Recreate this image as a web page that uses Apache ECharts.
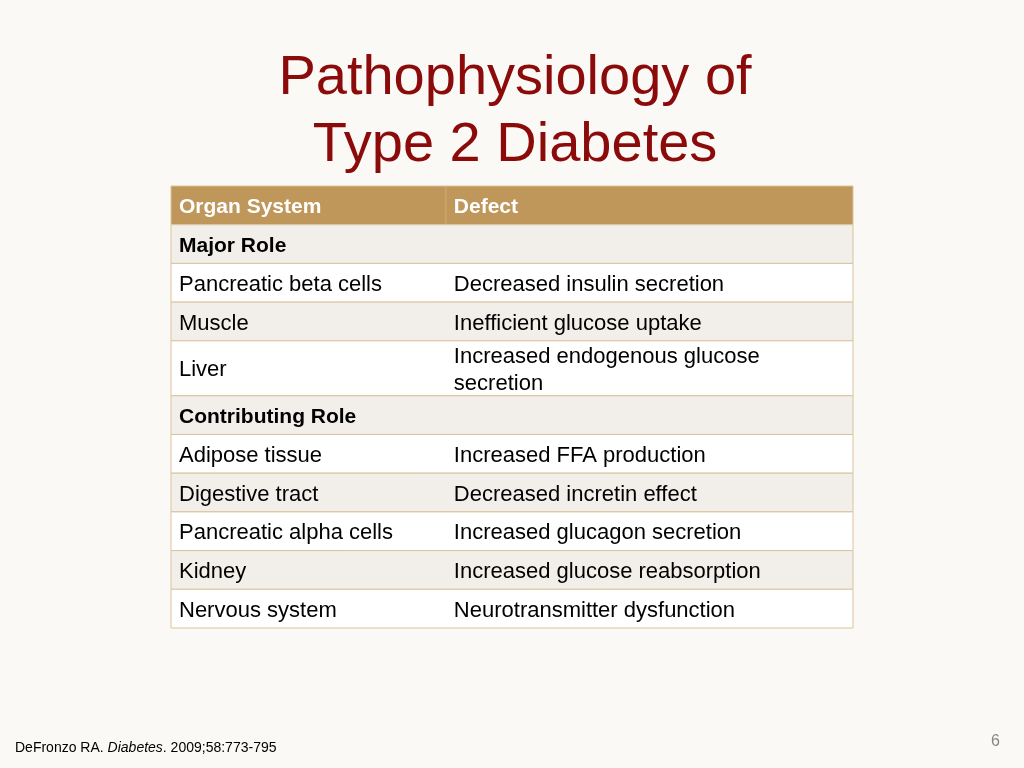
<!DOCTYPE html>
<html><head><meta charset="utf-8">
<script src="https://cdn.jsdelivr.net/npm/echarts@6/dist/echarts.min.js"></script>
<style>html,body{margin:0;padding:0;background:#fbf9f5}#c{width:1024px;height:768px}</style>
</head><body><div id="c"></div>
<script>
const headers = ['Organ System', 'Defect'];
const organs = ['Major Role', 'Pancreatic beta cells', 'Muscle', 'Liver', 'Contributing Role', 'Adipose tissue', 'Digestive tract', 'Pancreatic alpha cells', 'Kidney', 'Nervous system'];
const defects = ['', 'Decreased insulin secretion', 'Inefficient glucose uptake', 'Increased endogenous glucose\nsecretion', '', 'Increased FFA production', 'Decreased incretin effect', 'Increased glucagon secretion', 'Increased glucose reabsorption', 'Neurotransmitter dysfunction'];
const sectionRows = [0, 4];
const rowUnits = [1, 1, 1, 1.42, 1, 1, 1, 1, 1, 1];

const rows = [];
let y = 1;
organs.forEach((o, i) => { rows.push([y, y + rowUnits[i], o, defects[i], i]); y += rowUnits[i]; });
const totalY = y;
const split = 0.403;

const chart = echarts.init(document.getElementById('c'));
chart.setOption({
  backgroundColor: '#fbf9f5',
  title: [
    {text: 'Pathophysiology of\nType 2 Diabetes', left: 510, top: 40, textAlign: 'center',
     textStyle: {color: '#8b0a0a', fontSize: 56, fontWeight: 'normal', fontFamily: 'Liberation Sans', lineHeight: 67}},
  ],
  graphic: [
    {type: 'text', left: 15, top: 741, style: {rich: {a: {fontSize: 14, fill: '#000', fontFamily: 'Liberation Sans'}, i: {fontSize: 14, fontStyle: 'italic', fill: '#000', fontFamily: 'Liberation Sans'}}, text: '{a|DeFronzo RA. }{i|Diabetes}{a|. 2009;58:773-795}'}},
    {type: 'text', left: 991, top: 734, style: {text: '6', fontSize: 16, fill: '#888', fontFamily: 'Liberation Sans'}}
  ],
  grid: {left: 171, top: 186, width: 682, height: 442},
  xAxis: {type: 'value', min: 0, max: 1, show: false},
  yAxis: {type: 'value', min: 0, max: totalY, inverse: true, show: false},
  series: [{
    type: 'custom',
    data: [[0, 1, headers[0], headers[1], -1]].concat(rows),
    encode: {x: -1, y: [0, 1]},
    renderItem: function (params, api) {
      const y0 = api.value(0), y1 = api.value(1), idx = api.value(4);
      const a = api.coord([0, y0]), b = api.coord([1, y1]), m = api.coord([split, y0]);
      const h = b[1] - a[1];
      const isHead = idx === -1, isSec = sectionRows.indexOf(idx) >= 0;
      const fill = isHead ? '#c0975b' : (idx % 2 === 0 ? '#f2eeea' : '#ffffff');
      const tc = isHead ? '#ffffff' : '#000000';
      const fw = (isHead || isSec) ? 'bold' : 'normal';
      const fs = (isHead || isSec) ? 21 : 22;
      const ch = [
        {type: 'rect', shape: {x: a[0], y: a[1], width: b[0] - a[0], height: h}, style: {fill: fill, stroke: '#dcc39d', lineWidth: 1}},
        {type: 'text', style: {x: a[0] + 8, y: a[1] + h / 2 + 2, text: api.value(2), fill: tc, fontSize: fs, fontWeight: fw, fontFamily: 'Liberation Sans', verticalAlign: 'middle'}},
        {type: 'text', style: {x: m[0] + 8, y: a[1] + h / 2 + 2, text: String(api.value(3)), fill: tc, fontSize: fs, fontWeight: fw, lineHeight: 27, fontFamily: 'Liberation Sans', verticalAlign: 'middle'}}
      ];
      if (isHead) ch.push({type: 'line', shape: {x1: m[0], y1: a[1], x2: m[0], y2: b[1]}, style: {stroke: '#d0ad78', lineWidth: 1}});
      return {type: 'group', children: ch};
    }
  }]
});
</script></body></html>
